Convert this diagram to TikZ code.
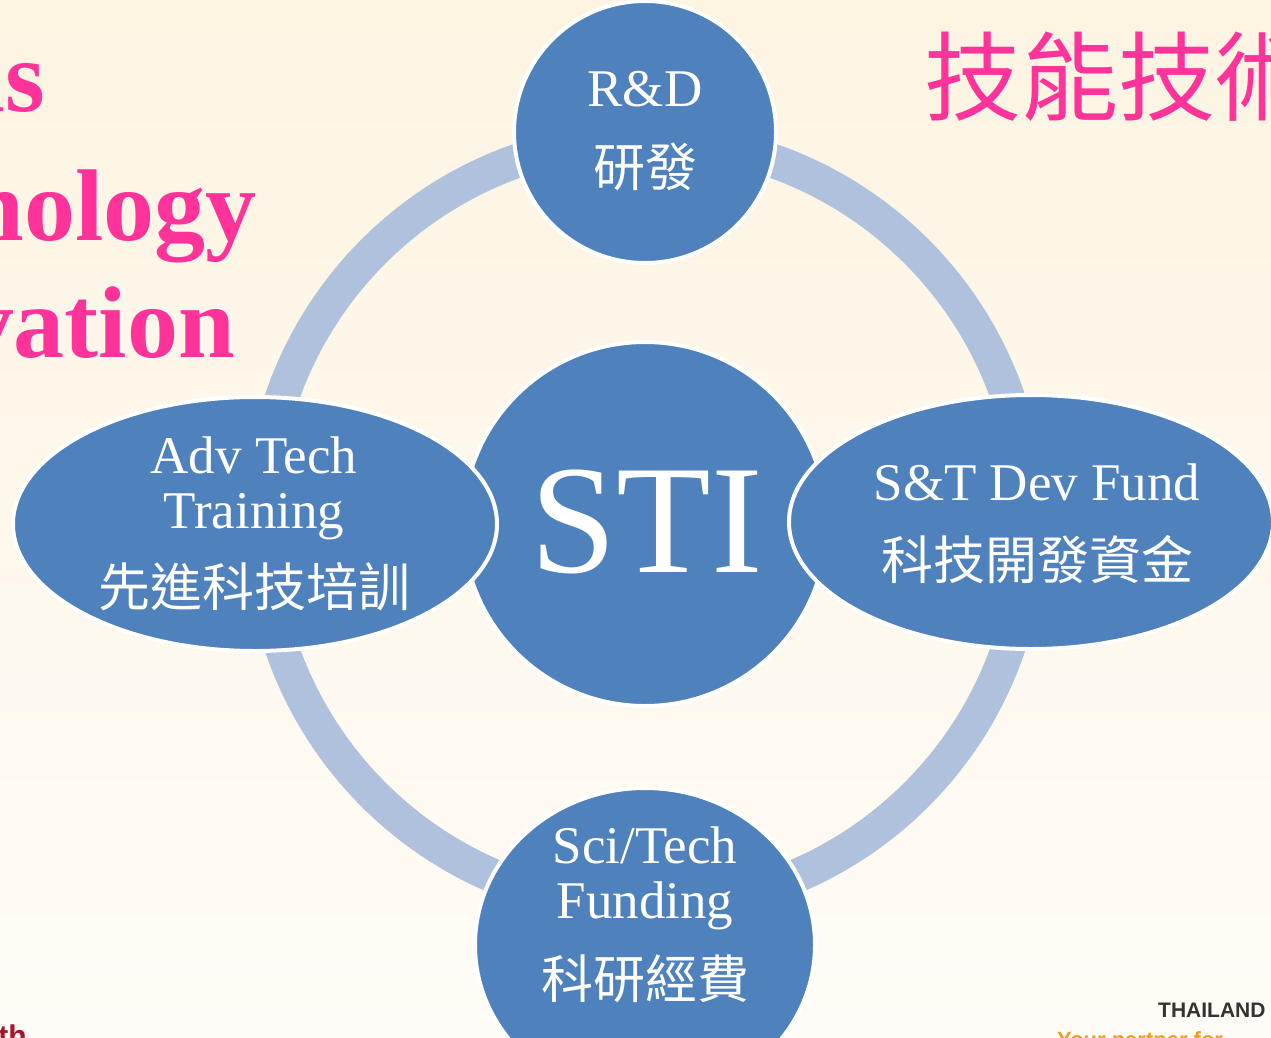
\documentclass[tikz,border=0pt]{standalone}
\usepackage{fontspec}
\setmainfont{Liberation Serif}
\newfontfamily\cjk{Noto Sans CJK TC}
\newfontfamily\hv{Liberation Sans}
\usetikzlibrary{shapes.geometric}
\definecolor{blobblue}{HTML}{4F81BD}
\definecolor{ringblue}{HTML}{B0C1DD}
\definecolor{pinktxt}{HTML}{FF3399}
\definecolor{bgtop}{HTML}{FDF4E2}
\definecolor{bgbot}{HTML}{FFFCF7}
\definecolor{darkred}{HTML}{A8142C}
\definecolor{orangetxt}{HTML}{E8A020}
\begin{document}
\begin{tikzpicture}[x=1pt,y=-1pt,
  blob/.style={ellipse, fill=blobblue, draw=white, line width=4pt, inner sep=0pt},
  rblob/.style={circle, fill=blobblue, draw=white, line width=4pt, inner sep=0pt},
  lbl/.style={text=white, font=\fontsize{53}{56}\selectfont, anchor=base, inner sep=0pt},
  clbl/.style={text=white, font=\cjk\fontsize{52}{56}\selectfont, inner sep=0pt},
  pinkbig/.style={text=pinktxt, font=\bfseries\fontsize{102}{110}\selectfont, anchor=base east, inner sep=0pt},
  ring/.style={draw=ringblue, line width=34pt}]
\useasboundingbox (0,0) rectangle (1271,1038);
\clip (0,0) rectangle (1271,1038);
\shade[top color=bgtop, bottom color=bgbot] (0,0) rectangle (1271,1038);

% background titles
\node[pinkbig] (t1) at (45,112) {ns};
\node[pinkbig] (t2) at (257,240) {Technology};
\node[pinkbig] (t3) at (235,357) {Innovation};
\node[text=pinktxt, font=\cjk\fontsize{97}{100}\selectfont, anchor=west, inner sep=0pt] (tc) at (924,76) {技能技術創新};
\node[text=darkred, font=\hv\bfseries\fontsize{30}{32}\selectfont, anchor=base east, inner sep=0pt] (th) at (27,1046) {th};
\node[text=black!80, font=\hv\bfseries\fontsize{21}{24}\selectfont, anchor=base west, inner sep=0pt] (thai) at (1158,1017) {THAILAND};
\node[text=orangetxt, font=\hv\bfseries\fontsize{22}{24}\selectfont, anchor=base west, inner sep=0pt] (partner) at (1057,1047) {Your partner for};

% ring
\coordinate (c) at (645,523);
\draw[ring] (c) circle[radius=384pt];

% nodes
\node[rblob, minimum size=364pt] (sti) at (645,524) {};
\node[blob, minimum width=484pt, minimum height=254pt] (adv) at (255,524) {};
\node[blob, minimum width=484pt, minimum height=254pt] (fund) at (1031,522) {};
\node[rblob, minimum size=262pt] (rd) at (645,132) {};
\node[blob, minimum width=340pt, minimum height=314pt] (sci) at (645,945) {};

% labels
\node[text=white, font=\fontsize{155}{160}\selectfont, anchor=base, inner sep=0pt] (stiT) at (647,572) {STI};
\node[lbl] (rdT) at (645,107) {R\&D};
\node[clbl] (rdC) at (645,167) {研發};
\node[lbl] (advT1) at (254,473) {Adv Tech};
\node[lbl] (advT2) at (254,528) {Training};
\node[clbl] (advC) at (254,587) {先進科技培訓};
\node[lbl] (fundT) at (1037,500) {S\&T Dev Fund};
\node[clbl] (fundC) at (1037,560) {科技開發資金};
\node[lbl] (sciT1) at (645,863) {Sci/Tech};
\node[lbl] (sciT2) at (645,918) {Funding};
\node[clbl] (sciC) at (645,979) {科研經費};
\end{tikzpicture}
\end{document}
